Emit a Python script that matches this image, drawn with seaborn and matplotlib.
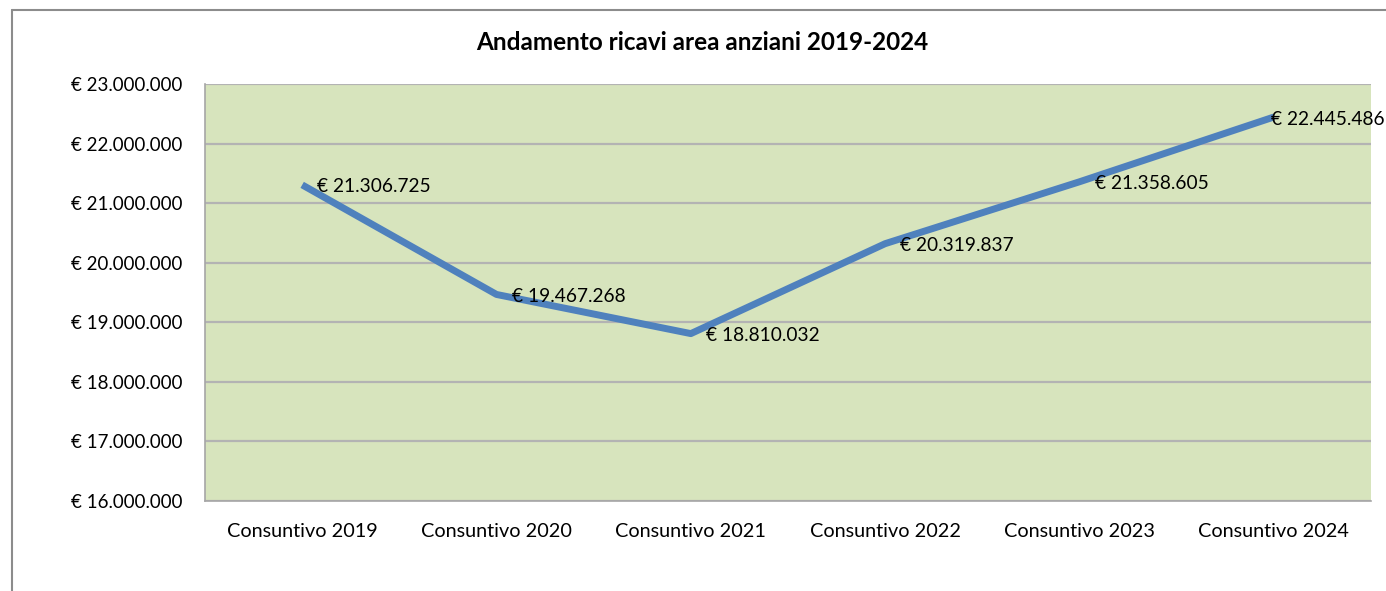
import matplotlib.pyplot as plt
import pandas as pd
import seaborn as sns
from matplotlib.lines import Line2D
from matplotlib.ticker import FuncFormatter

# data
categories = ["Consuntivo 2019", "Consuntivo 2020", "Consuntivo 2021",
              "Consuntivo 2022", "Consuntivo 2023", "Consuntivo 2024"]
ricavi = [21306725, 19467268, 18810032, 20319837, 21358605, 22445486]
y_ticks = [16000000, 17000000, 18000000, 19000000, 20000000, 21000000, 22000000, 23000000]
title = "Andamento ricavi area anziani 2019-2024"


def euro(v, _pos=None):
    return "€ " + f"{int(round(v)):,}".replace(",", ".")


sns.set_theme(style="white")
plt.rcParams["font.family"] = ["Lato", "DejaVu Sans"]

df = pd.DataFrame({"categoria": categories, "ricavi": ricavi})

fig = plt.figure(figsize=(13.86, 5.91), dpi=100)
ax = fig.add_axes([205 / 1386, 1 - 501 / 591, 1166 / 1386, 417 / 591])
ax.set_facecolor("#D7E4BD")

sns.lineplot(data=df, x="categoria", y="ricavi", ax=ax, color="#4F81BD",
             linewidth=5, sort=False, solid_capstyle="butt", zorder=3)

# data labels to the right of each point; the last one is pulled back so it fits in the frame
for i, val in enumerate(ricavi):
    dx = 11 if i < len(ricavi) - 1 else -2
    ax.annotate(euro(val), (i, val), xytext=(dx, -1.5), textcoords="offset points",
                ha="left", va="center", fontsize=13.8, color="black", zorder=4,
                annotation_clip=False)

ax.set_xlim(-0.5, len(categories) - 0.5)
ax.set_ylim(y_ticks[0], y_ticks[-1])
ax.set_yticks(y_ticks)
ax.yaxis.set_major_formatter(FuncFormatter(euro))
ax.grid(axis="y", color="#B3B3B3", linewidth=1.6, zorder=1)
ax.set_axisbelow(True)
ax.set_xlabel("")
ax.set_ylabel("")
ax.tick_params(axis="y", length=0, pad=16, labelsize=13.5, labelcolor="black")
ax.tick_params(axis="x", length=0, pad=16, labelsize=14.3, labelcolor="black")
for side, sp in ax.spines.items():
    sp.set_color("#A6A6A6")
    sp.set_linewidth(1.2)
ax.spines["top"].set_visible(False)
ax.spines["right"].set_visible(False)

fig.text(702 / 1386, 1 - 43 / 591, title, ha="center", va="center",
         fontsize=17.5, fontweight="bold", color="black")

# outer chart frame (left and top edges visible in the reference)
fig.add_artist(Line2D([12 / 1386, 12 / 1386], [0, 1 - 10 / 591],
                      transform=fig.transFigure, color="#8C8C8C", linewidth=1.5))
fig.add_artist(Line2D([12 / 1386, 1], [1 - 10 / 591, 1 - 10 / 591],
                      transform=fig.transFigure, color="#8C8C8C", linewidth=1.5))

fig.savefig("out.png", dpi=100, facecolor="white")
plt.close(fig)
